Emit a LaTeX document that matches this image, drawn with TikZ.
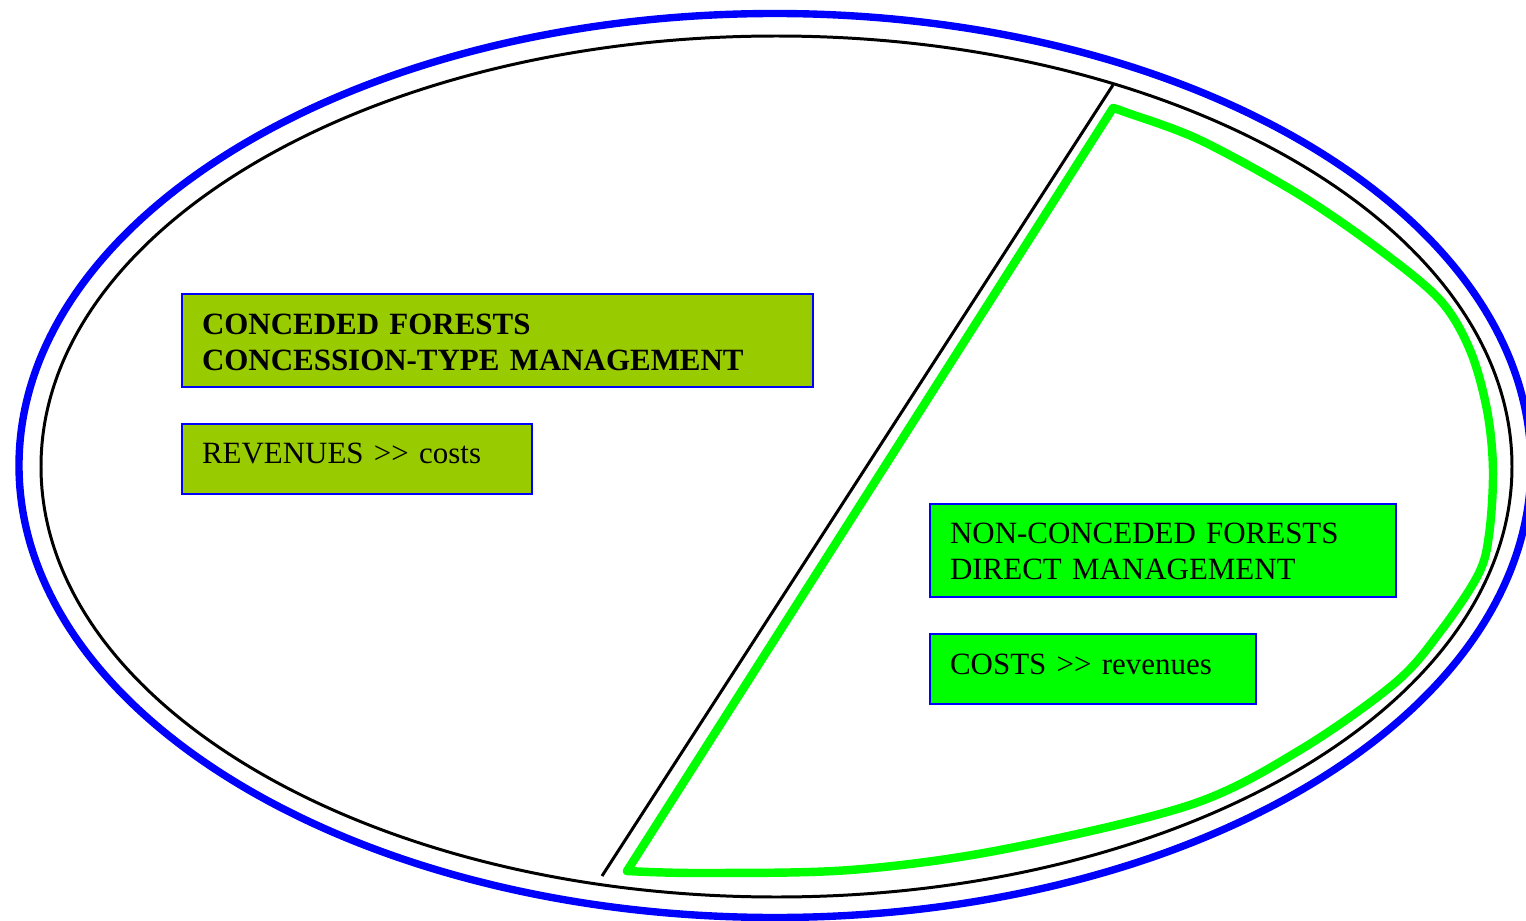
\documentclass[tikz,border=0pt]{standalone}
\usepackage{fontspec}
\setmainfont{Liberation Serif}
\usepackage{xcolor}
\usetikzlibrary{positioning,calc}
\definecolor{olivebox}{HTML}{99CC00}
\definecolor{brightbox}{HTML}{00FF00}
\tikzset{%
	infobox/.style  = {draw=blue, line width=0.6pt, rectangle, anchor=north west, inner xsep=0.20cm, inner ysep=0pt, align=left, font=\fontsize{8.8pt}{10.24pt}\selectfont},
	outerring/.style = {draw=blue, line width=2.1pt},
	innerring/.style = {draw=black, line width=0.85pt},
	divider/.style  = {draw=black, line width=0.85pt},
	zone/.style     = {draw=brightbox, line width=2.4pt, line join=round},
}

\begin{document}
\begin{tikzpicture}[x=0.01cm,y=-0.01cm]
	\useasboundingbox (0,0) rectangle (1526,921);
	\coordinate (c) at (775,465.5);
	\draw[outerring] (c) ellipse [x radius=756, y radius=452];
	\draw[innerring] (776.5,466.5) ellipse [x radius=735.5, y radius=430.5];
	
	% dividing line
	\coordinate (top) at (1113,85);
	\coordinate (bot) at (602,876);
	\draw[divider] (top) -- (bot);
	
	% non-conceded zone
	\draw[zone] plot[smooth, tension=0.55] coordinates {(1113,108) (1125,112) (1200,140) (1300,195) (1380,250) (1440,300) (1470,350) (1487,410) (1493,470) (1489,535) (1478,575) (1440,632) (1395,683) (1300,750) (1190,805) (1000,850) (850,870) (700,873) (627,871)} -- cycle;
	
	\node [infobox, fill=olivebox, text width=5.91cm, text height=0.40cm, text depth=0.53cm] (conc) at (181,293) {\textbf{CONCEDED FORESTS}\\\textbf{CONCESSION-TYPE MANAGEMENT}};
	\node [infobox, fill=olivebox, text width=3.10cm, text height=0.39cm, text depth=0.31cm] (concrev) at (181,423) {REVENUES >{}> costs};
	\node [infobox, fill=brightbox, text width=4.26cm, text height=0.39cm, text depth=0.54cm] (nonconc) at (929,503) {NON-CONCEDED FORESTS\\DIRECT MANAGEMENT};
	\node [infobox, fill=brightbox, text width=2.86cm, text height=0.40cm, text depth=0.30cm] (noncost) at (929,633) {COSTS >{}> revenues};
\end{tikzpicture}
\end{document}
